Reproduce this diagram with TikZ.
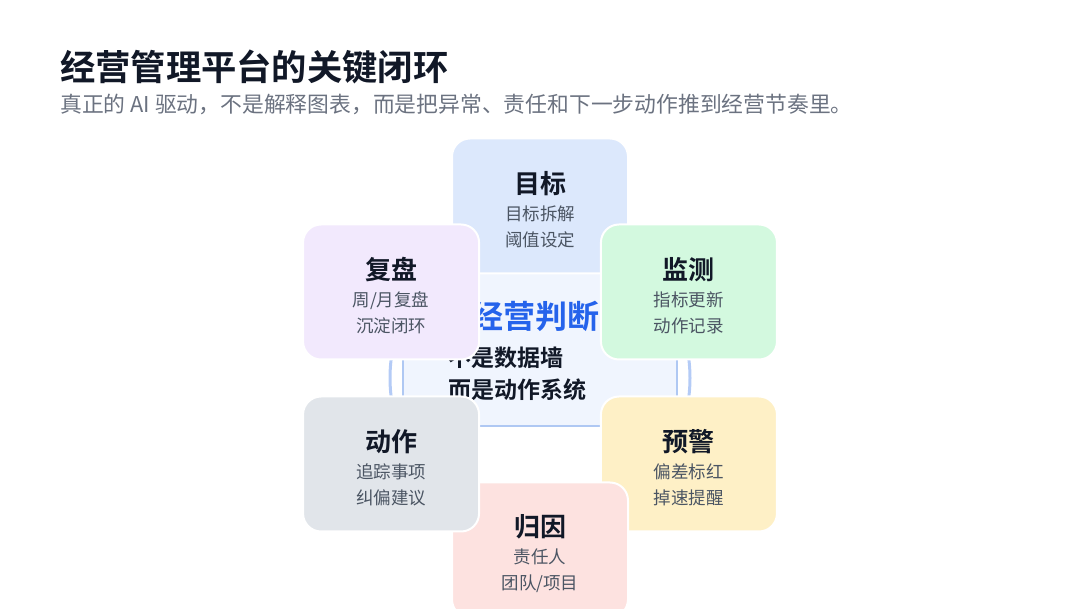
\documentclass[tikz,border=0pt]{standalone}
\usepackage{fontspec}
\setmainfont{Noto Sans CJK SC}[BoldFont={Noto Sans CJK SC Bold}]
\usetikzlibrary{positioning, calc}

\definecolor{inkdark}{HTML}{111827}
\definecolor{inkgray}{HTML}{4B5563}
\definecolor{inksub}{HTML}{6B7280}
\definecolor{ringblue}{HTML}{B4CBF6}
\definecolor{corefill}{HTML}{F0F5FE}
\definecolor{coreline}{HTML}{AFC8F3}
\definecolor{judgeblue}{HTML}{2563EB}
\definecolor{goalfill}{HTML}{DCE8FC}
\definecolor{watchfill}{HTML}{D3F9DF}
\definecolor{alertfill}{HTML}{FEF0C6}
\definecolor{causefill}{HTML}{FDE2E0}
\definecolor{actfill}{HTML}{E1E5EA}
\definecolor{reviewfill}{HTML}{F2E9FD}

\newcommand{\cardhead}[1]{{\fontsize{26}{26}\bfseries\color{inkdark}\rule{0pt}{29pt}#1}}

\begin{document}
\begin{tikzpicture}[x=1pt, y=-1pt,
    card/.style={draw=white, line width=2pt, rectangle, rounded corners=18pt, minimum width=176pt, minimum height=135pt, inner sep=0pt, align=center, text=inkgray, font=\fontsize{17.5}{26}\selectfont},
    coretext/.style={inner sep=0pt, text=inkdark, font=\fontsize{23}{26}\bfseries}]
		\useasboundingbox (0,0) rectangle (1080,609);
		\clip (0,0) rectangle (1080,609);
		
		\node [anchor=west, inner sep=0pt, text=inkdark, font=\fontsize{35.3}{40}\bfseries] (title) at (60,67) {经营管理平台的关键闭环};
		\node [anchor=west, inner sep=0pt, text=inksub, font=\fontsize{21.8}{26}\selectfont] (subtitle) at (60,104) {真正的 AI 驱动，不是解释图表，而是把异常、责任和下一步动作推到经营节奏里。};
		
		% ring and core
		\coordinate (hub) at (540,378);
		\draw [ringblue, line width=3pt] (hub) circle (150);
		\node [draw=coreline, fill=corefill, line width=1.2pt, minimum width=274pt, minimum height=156pt] (core) at ($(hub)+(0,-30)$) {};
		\node [coretext, text=judgeblue, font=\fontsize{32}{36}\bfseries] (judge) at (535,316) {经营判断};
		\node [coretext, anchor=west] (notwall) at (448,358) {不是数据墙};
		\node [coretext, anchor=west] (system) at (448,390) {而是动作系统};
		
		% loop cards
		\node [card, fill=goalfill] (goal) at ($(hub)+(-90:172)$) {\cardhead{目标}\\[1pt] 目标拆解\\ 阈值设定};
		\node [card, fill=watchfill] (watch) at ($(hub)+(-30:172)$) {\cardhead{监测}\\[1pt] 指标更新\\ 动作记录};
		\node [card, fill=alertfill] (alert) at ($(hub)+(30:172)$) {\cardhead{预警}\\[1pt] 偏差标红\\ 掉速提醒};
		\node [card, fill=causefill] (cause) at ($(hub)+(90:172)$) {\cardhead{归因}\\[1pt] 责任人\\ 团队/项目};
		\node [card, fill=actfill] (act) at ($(hub)+(150:172)$) {\cardhead{动作}\\[1pt] 追踪事项\\ 纠偏建议};
		\node [card, fill=reviewfill] (review) at ($(hub)+(210:172)$) {\cardhead{复盘}\\[1pt] 周/月复盘\\ 沉淀闭环};
	\end{tikzpicture}
\end{document}
